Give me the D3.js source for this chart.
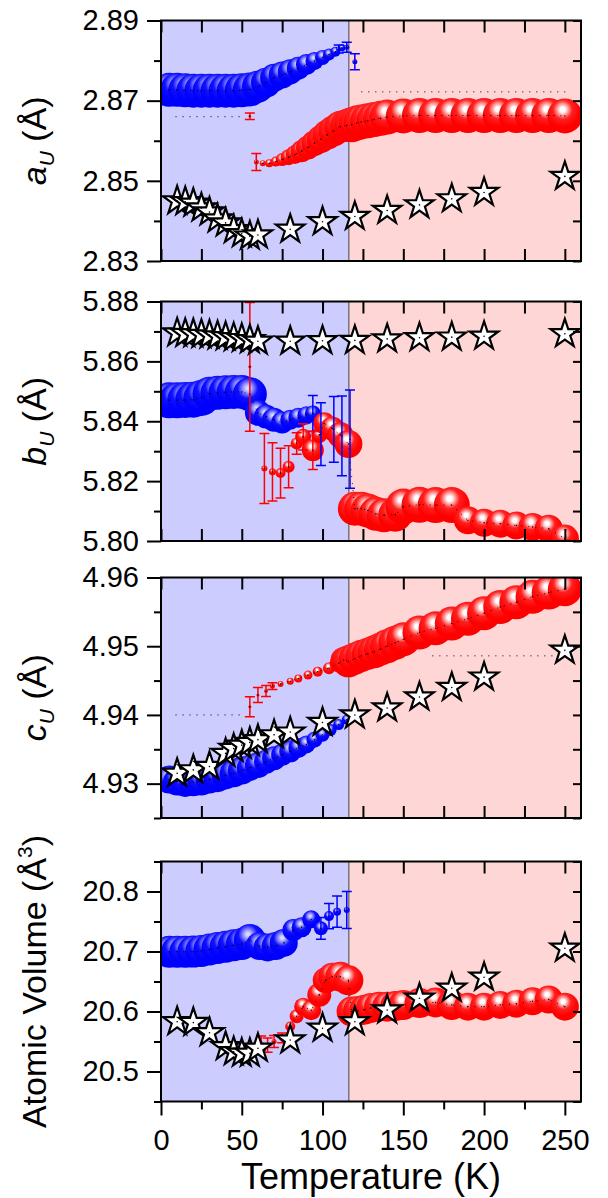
<!DOCTYPE html>
<html><head><meta charset="utf-8">
<script src="https://cdn.jsdelivr.net/npm/d3@7"></script>
<style>
html,body{margin:0;padding:0;background:#fff;}
svg{display:block;}
text{font-family:"Liberation Sans",Arial,Helvetica,sans-serif;fill:#000;}
</style></head><body>
<svg id="chart" width="608" height="1198"></svg>
<script>
// ---------------- DATA ----------------
const xMajor = [0, 50, 100, 150, 200, 250];
const xMinor = [25, 75, 125, 175, 225];
const transitionT = 116.3;

// Panel a_U
const aMajor = [2.83, 2.85, 2.87, 2.89];
const aMinor = [2.84, 2.86, 2.88];
const aBlueT = [5,10,15,20,25,30,35,40,45,50,55,60,65,70,75,80,85,90,95,100,104,108,110,112,115,120];
const aBlueV = [2.8727,2.8727,2.8726,2.8725,2.8725,2.8725,2.8725,2.8725,2.8725,2.8726,2.8728,2.8735,2.8745,2.8757,2.8764,2.8772,2.8781,2.8790,2.8799,2.8808,2.8815,2.8822,2.8829,2.8832,2.8833,2.8797];
const aBlueS = [17,17,17,17,17,17,17,17,17,17,17,16,15,14,13.5,12.5,11.5,10.5,9,7.5,6,5,2.5,3.5,2.5,2.5];
const aBlueE = [0,0,0,0,0,0,0,0,0,0,0,0,0,0,0,0,0,0,0,0,0,0,0.001,0,0.00125,0.002];
const aRedT = [55,59,63,67,71,75,79,83,87,91,95,99,103,107,111,115,118,121,124,128,132,136,140,150,160,170,180,190,200,210,220,230,240,250];
const aRedV = [2.8661,2.8547,2.8544,2.8544,2.8548,2.8553,2.8559,2.8566,2.8574,2.8583,2.8594,2.8604,2.8615,2.8625,2.8635,2.8638,2.8640,2.8644,2.8647,2.8650,2.8653,2.8656,2.8659,2.8662,2.8663,2.8663,2.8663,2.8663,2.8663,2.8663,2.8663,2.8663,2.8663,2.8662];
const aRedS = [1.2,2.5,3,4,5,6.5,8,9.5,11,12,13,14,15,15.5,16,16.5,17.5,17.5,17.5,17.5,17.5,17.5,17.5,17.5,17.5,17.5,17.5,17.5,17.5,17.5,17.5,17.5,17.5,17.5];
const aRedE = [0.0008,0.0021,0,0,0,0,0,0,0,0,0,0,0,0,0,0,0,0,0,0,0,0,0,0,0,0,0,0,0,0,0,0,0,0];
const aStarT = [10,15,20,25,30,35,40,45,50,55,60,80,100,120,140,160,180,200,250];
const aStarV = [2.8450,2.8448,2.8444,2.8432,2.8422,2.8405,2.8395,2.8378,2.8368,2.8362,2.8365,2.8379,2.8398,2.8411,2.8426,2.8440,2.8455,2.8471,2.8511];
const aRefStart = [9, 124];
const aRefEnd = [51, 251];
const aRefV = [2.8660, 2.8722];

// Panel b_U
const bMajor = [5.80, 5.82, 5.84, 5.86, 5.88];
const bMinor = [5.81, 5.83, 5.85, 5.87];
const bBlueT = [5,10,15,20,25,30,35,40,45,50,55,60,65,70,75,80,85,90,94,99,107,112,117];
const bBlueV = [5.8470,5.8470,5.8471,5.8472,5.8478,5.8492,5.8495,5.8497,5.8498,5.8498,5.8490,5.8428,5.8416,5.8405,5.8396,5.8405,5.8412,5.8420,5.8426,5.8357,5.8373,5.8351,5.8340];
const bBlueS = [18,18,18,18,18,17,17,17,17,17,17,13,12,12,11,10,10,9,8,1.5,1.5,1.5,1.5];
const bBlueE = [0,0,0,0,0,0,0,0,0,0,0,0,0,0,0,0,0,0,0.006,0.0105,0.011,0.0133,0.0164];
const bRedT = [55,64,69,74,79,84,88,94,98,101,106,111,116,120,124,128,133,138,145,150,160,170,180,190,200,210,220,230,240,250];
const bRedV = [5.8582,5.8242,5.8231,5.8227,5.8248,5.8326,5.8348,5.8303,5.8354,5.8393,5.8376,5.8354,5.8324,5.8108,5.8108,5.8102,5.8091,5.8086,5.8088,5.8115,5.8121,5.8120,5.8120,5.8069,5.8061,5.8058,5.8052,5.8047,5.8041,5.8008];
const bRedS = [1.5,3,3.5,5,6,6,8,11,8,11,12,13,14,17,17,17,17,17,17,18,18,18,18,14,14,14,14,14,14,14];
const bRedE = [0.0215,0.0117,0.0097,0.0083,0.007,0.0036,0.0044,0.0064,0,0,0,0,0,0,0,0,0,0,0,0,0,0,0,0,0,0,0,0,0,0];
const bStarT = [10,15,20,25,30,35,40,45,50,55,60,80,100,120,140,160,180,200,250];
const bStarV = [5.8695,5.8693,5.8692,5.8690,5.8688,5.8685,5.8682,5.8679,5.8676,5.8672,5.8667,5.8667,5.8669,5.8670,5.8675,5.8679,5.8681,5.8684,5.8692];

// Panel c_U
const cMajor = [4.93, 4.94, 4.95, 4.96];
const cMinor = [4.925, 4.935, 4.945, 4.955];
const cBlueT = [5,10,15,20,25,30,35,40,45,50,55,60,65,70,75,80,85,90,95,100,105,110,115];
const cBlueV = [4.9306,4.9303,4.9301,4.9302,4.9303,4.9306,4.9308,4.9312,4.9315,4.9319,4.9323,4.9327,4.9332,4.9337,4.9342,4.9347,4.9352,4.9357,4.9364,4.9371,4.9378,4.9386,4.9393];
const cBlueS = [14,14,14,14,14,14,14,14,14,14,13,13,12,12,11,11,10,9,8,7,6,5.5,5];
const cBlueE = [0,0,0,0,0,0,0,0,0,0,0,0,0,0,0,0,0,0,0,0,0,0,0];
const cRedT = [55,60,65,69,74,80,85,91,97,104,110,113,116,120,124,128,132,136,140,145,150,160,170,180,190,200,210,220,230,240,250];
const cRedV = [4.9412,4.9429,4.9435,4.9442,4.9445,4.9449,4.9453,4.9458,4.9463,4.9468,4.9475,4.9480,4.9478,4.9482,4.9486,4.9489,4.9492,4.9496,4.9500,4.9505,4.9510,4.9520,4.9526,4.9533,4.9540,4.9548,4.9557,4.9564,4.9572,4.9578,4.9583];
const cRedS = [1.5,1.5,2,2.5,3,3.5,4,4.5,5,6,9,13,16,16,16,16,16.5,16.5,17,17,17,17,17,17,17,17,17,17,17,17,17];
const cRedE = [0.00145,0.0011,0.0008,0.0005,0,0,0,0,0,0,0,0,0,0,0,0,0,0,0,0,0,0,0,0,0,0,0,0,0,0,0];
const cStarT = [10,20,30,40,45,50,55,60,70,80,100,120,140,160,180,200,250];
const cStarV = [4.9315,4.9320,4.9325,4.9344,4.9351,4.9356,4.9360,4.9364,4.9371,4.9375,4.9389,4.9400,4.9410,4.9426,4.9440,4.9455,4.9494];
const cRefStart = [9, 168];
const cRefEnd = [51, 248];
const cRefV = [4.9400, 4.9486];

// Panel Atomic volume
const dMajor = [20.5, 20.6, 20.7, 20.8];
const dMinor = [20.45, 20.55, 20.65, 20.75, 20.85];
const dBlueT = [5,10,15,20,25,30,35,40,45,50,55,61,66,71,76,82,87,93,99,104,109,115];
const dBlueV = [20.6995,20.6997,20.6995,20.6998,20.7010,20.7035,20.7060,20.7080,20.7105,20.7125,20.7190,20.7090,20.7068,20.7090,20.7143,20.7358,20.7403,20.7536,20.7386,20.7590,20.7664,20.7692];
const dBlueS = [16,16,16,16,16,16,16,16,16,16,16,14,14,14,14,11,10,9,7,5,4,3];
const dBlueE = [0,0,0,0,0,0,0,0,0,0,0,0,0,0,0,0,0,0,0.018,0.021,0.026,0.031];
const dRedT = [62,66,70,75,80,84,88,93,98,102,106,111,116,118,122,126,130,135,140,145,150,160,170,180,190,200,210,220,230,240,250];
const dRedV = [20.547,20.544,20.550,20.556,20.575,20.592,20.608,20.602,20.628,20.652,20.658,20.658,20.652,20.600,20.601,20.603,20.606,20.608,20.608,20.609,20.611,20.614,20.615,20.611,20.608,20.608,20.611,20.613,20.617,20.620,20.608];
const dRedS = [2,2,2.5,3,5,7,9,10,12,13,14,15,15,15,15,15,15,15,15,15,15,15,15,15,14,14,14,14,14,14,14];
const dRedE = [0.012,0.012,0.010,0.008,0,0,0,0,0,0,0,0,0,0,0,0,0,0,0,0,0,0,0,0,0,0,0,0,0,0,0];
const dStarT = [10,20,30,40,45,50,55,60,80,100,120,140,160,180,200,250];
const dStarV = [20.583,20.5815,20.5647,20.5414,20.533,20.5303,20.5303,20.5386,20.5525,20.572,20.583,20.6025,20.622,20.6387,20.657,20.7053];

// ---------------- DRAWING ----------------
const svg = d3.select("#chart");
const defs = svg.append("defs");
const x = d3.scaleLinear().domain([0, 260]).range([161, 581]);

function sphere(id, stops) {
  const g = defs.append("radialGradient").attr("id", id)
    .attr("cx", 0.44).attr("cy", 0.32).attr("r", 0.5).attr("fx", 0.44).attr("fy", 0.32);
  stops.forEach(s => g.append("stop").attr("offset", s[0]).attr("stop-color", s[1]));
}
sphere("gRed", [[0,"#ffffff"],[0.14,"#ffffff"],[0.3,"#ffa8a8"],[0.55,"#ff2020"],[1,"#ff0000"]]);
sphere("gBlue", [[0,"#e6e6ff"],[0.15,"#c4c4ff"],[0.35,"#7a7aff"],[0.6,"#1010ff"],[1,"#0000ff"]]);

const zip = (t, v, s, e) => t.map((d, i) => ({t: d, v: v[i], s: s ? s[i] : 0, e: e ? e[i] : 0}));
const refs = (a, b, v) => a.map((d, i) => ({t0: d, t1: b[i], v: v[i]}));

const panels = [
  {top: 20.5, bottom: 261, domain: [2.83, 2.89], major: aMajor, minor: aMinor, fmt: 2,
   blue: zip(aBlueT, aBlueV, aBlueS, aBlueE), red: zip(aRedT, aRedV, aRedS, aRedE),
   stars: zip(aStarT, aStarV), refs: refs(aRefStart, aRefEnd, aRefV), title: "a"},
  {top: 301.5, bottom: 541, domain: [5.80, 5.88], major: bMajor, minor: bMinor, fmt: 2,
   blue: zip(bBlueT, bBlueV, bBlueS, bBlueE), red: zip(bRedT, bRedV, bRedS, bRedE),
   stars: zip(bStarT, bStarV), refs: [], title: "b"},
  {top: 577.5, bottom: 818, domain: [4.925, 4.96], major: cMajor, minor: cMinor, fmt: 2,
   blue: zip(cBlueT, cBlueV, cBlueS, cBlueE), red: zip(cRedT, cRedV, cRedS, cRedE),
   stars: zip(cStarT, cStarV), refs: refs(cRefStart, cRefEnd, cRefV), title: "c"},
  {top: 861.5, bottom: 1101.5, domain: [20.45, 20.85], major: dMajor, minor: dMinor, fmt: 1,
   blue: zip(dBlueT, dBlueV, dBlueS, dBlueE), red: zip(dRedT, dRedV, dRedS, dRedE),
   stars: zip(dStarT, dStarV), refs: [], title: null}
];

const starPath = d3.symbol(d3.symbolStar, 252)();

function styleAxis(sel) {
  sel.select(".domain").remove();
  sel.selectAll(".tick line").attr("stroke", "#000").attr("stroke-width", 2);
  sel.selectAll(".tick text").attr("font-size", 29).attr("fill", "#000")
    .attr("font-family", '"Liberation Sans", Arial, sans-serif');
}

panels.forEach((p, i) => {
  const y = d3.scaleLinear().domain(p.domain).range([p.bottom, p.top]);
  const h = p.bottom - p.top;
  const g = svg.append("g");
  const cid = "clip" + i;
  defs.append("clipPath").attr("id", cid).append("rect")
    .attr("x", x(0)).attr("y", p.top).attr("width", x(260) - x(0)).attr("height", h);

  g.append("rect").attr("x", x(0)).attr("y", p.top).attr("width", x(transitionT) - x(0))
    .attr("height", h).attr("fill", "#ccccff");
  g.append("rect").attr("x", x(transitionT)).attr("y", p.top).attr("width", x(260) - x(transitionT))
    .attr("height", h).attr("fill", "#ffd6d6");
  g.append("line").attr("x1", x(transitionT)).attr("x2", x(transitionT))
    .attr("y1", p.top).attr("y2", p.bottom).attr("stroke", "#444").attr("stroke-width", 1);

  const plot = g.append("g").attr("clip-path", `url(#${cid})`);

  plot.selectAll(".ref").data(p.refs).join("line")
    .attr("x1", d => x(d.t0)).attr("x2", d => x(d.t1))
    .attr("y1", d => y(d.v)).attr("y2", d => y(d.v))
    .attr("stroke", "#000").attr("stroke-width", 1).attr("stroke-dasharray", "1,6");

  [[p.blue, "gBlue"], [p.red, "gRed"]].forEach(([data, grad]) => {
    plot.append("g").selectAll("circle").data(data).join("circle")
      .attr("cx", d => x(d.t)).attr("cy", d => y(d.v)).attr("r", d => d.s)
      .attr("fill", `url(#${grad})`);
  });

  const line = d3.line().x(d => x(d.t)).y(d => y(d.v));
  [p.blue, p.red].forEach(data => {
    const pts = data.filter(d => d.s >= 3 && d.e === 0);
    plot.append("path").attr("d", line(pts)).attr("fill", "none")
      .attr("stroke", "#000").attr("stroke-width", 0.9).attr("stroke-dasharray", "1,6");
  });

  [[p.blue, "#0000ff"], [p.red, "#ff0000"]].forEach(([data, col]) => {
    const eg = plot.append("g").attr("stroke", col).attr("stroke-width", 1.5).attr("fill", "none");
    data.filter(d => d.e > 0).forEach(d => {
      const cx = x(d.t), y1 = y(d.v + d.e), y2 = y(d.v - d.e);
      eg.append("line").attr("x1", cx).attr("x2", cx).attr("y1", y1).attr("y2", y2);
      eg.append("line").attr("x1", cx - 5).attr("x2", cx + 5).attr("y1", y1).attr("y2", y1);
      eg.append("line").attr("x1", cx - 5).attr("x2", cx + 5).attr("y1", y2).attr("y2", y2);
    });
  });

  plot.append("g").selectAll("circle").data(p.blue.concat(p.red)).join("circle")
    .attr("cx", d => x(d.t)).attr("cy", d => y(d.v)).attr("r", 0.7).attr("fill", "#000");

  const sg = plot.append("g");
  sg.selectAll("path").data(p.stars).join("path")
    .attr("d", starPath).attr("transform", d => `translate(${x(d.t)},${y(d.v)})`)
    .attr("fill", "#fff").attr("stroke", "#000").attr("stroke-width", 2.2).attr("stroke-linejoin", "miter");
  sg.selectAll("circle").data(p.stars).join("circle")
    .attr("cx", d => x(d.t)).attr("cy", d => y(d.v)).attr("r", 0.8).attr("fill", "#000");

  // axes
  const left = g.append("g").attr("transform", `translate(${x(0)},0)`)
    .call(d3.axisLeft(y).tickValues(p.major).tickSize(14).tickPadding(8).tickFormat(d => d.toFixed(p.fmt)));
  styleAxis(left);
  const leftMin = g.append("g").attr("transform", `translate(${x(0)},0)`)
    .call(d3.axisLeft(y).tickValues(p.minor).tickSize(7).tickFormat(""));
  styleAxis(leftMin);
  const right = g.append("g").attr("transform", `translate(${x(260)},0)`)
    .call(d3.axisRight(y).tickValues(p.major.concat(p.minor)).tickSize(-8).tickFormat(""));
  styleAxis(right);
  const top = g.append("g").attr("transform", `translate(0,${p.top})`)
    .call(d3.axisTop(x).tickValues(xMajor.concat(xMinor)).tickSize(-12).tickFormat(""));
  styleAxis(top);
  if (i < 3) {
    const bot = g.append("g").attr("transform", `translate(0,${p.bottom})`)
      .call(d3.axisBottom(x).tickValues(xMajor.concat(xMinor)).tickSize(-12).tickFormat(""));
    styleAxis(bot);
  } else {
    const bot = g.append("g").attr("transform", `translate(0,${p.bottom})`)
      .call(d3.axisBottom(x).tickValues(xMajor).tickSize(14).tickPadding(14).tickFormat(d3.format("d")));
    styleAxis(bot);
    const botMin = g.append("g").attr("transform", `translate(0,${p.bottom})`)
      .call(d3.axisBottom(x).tickValues(xMinor).tickSize(8).tickFormat(""));
    styleAxis(botMin);
  }
  g.append("rect").attr("x", x(0)).attr("y", p.top).attr("width", x(260) - x(0)).attr("height", h)
    .attr("fill", "none").attr("stroke", "#000").attr("stroke-width", 2);

  // y title
  const mid = (p.top + p.bottom) / 2;
  const t = g.append("text").attr("transform", `translate(46,${mid}) rotate(-90)`)
    .attr("text-anchor", "middle").attr("font-size", 34);
  if (p.title) {
    t.append("tspan").attr("font-style", "italic").text(p.title);
    t.append("tspan").attr("font-style", "italic").attr("font-size", 21).attr("dy", 8).text("U");
    t.append("tspan").attr("dy", -8).text(" (Å)");
  } else {
    t.append("tspan").text("Atomic Volume (Å");
    t.append("tspan").attr("font-size", 21).attr("dy", -14).text("3");
    t.append("tspan").attr("dy", 14).text(")");
  }
});

svg.append("text").attr("x", (x(0) + x(260)) / 2).attr("y", 1189)
  .attr("text-anchor", "middle").attr("font-size", 36).text("Temperature (K)");
</script></body></html>
